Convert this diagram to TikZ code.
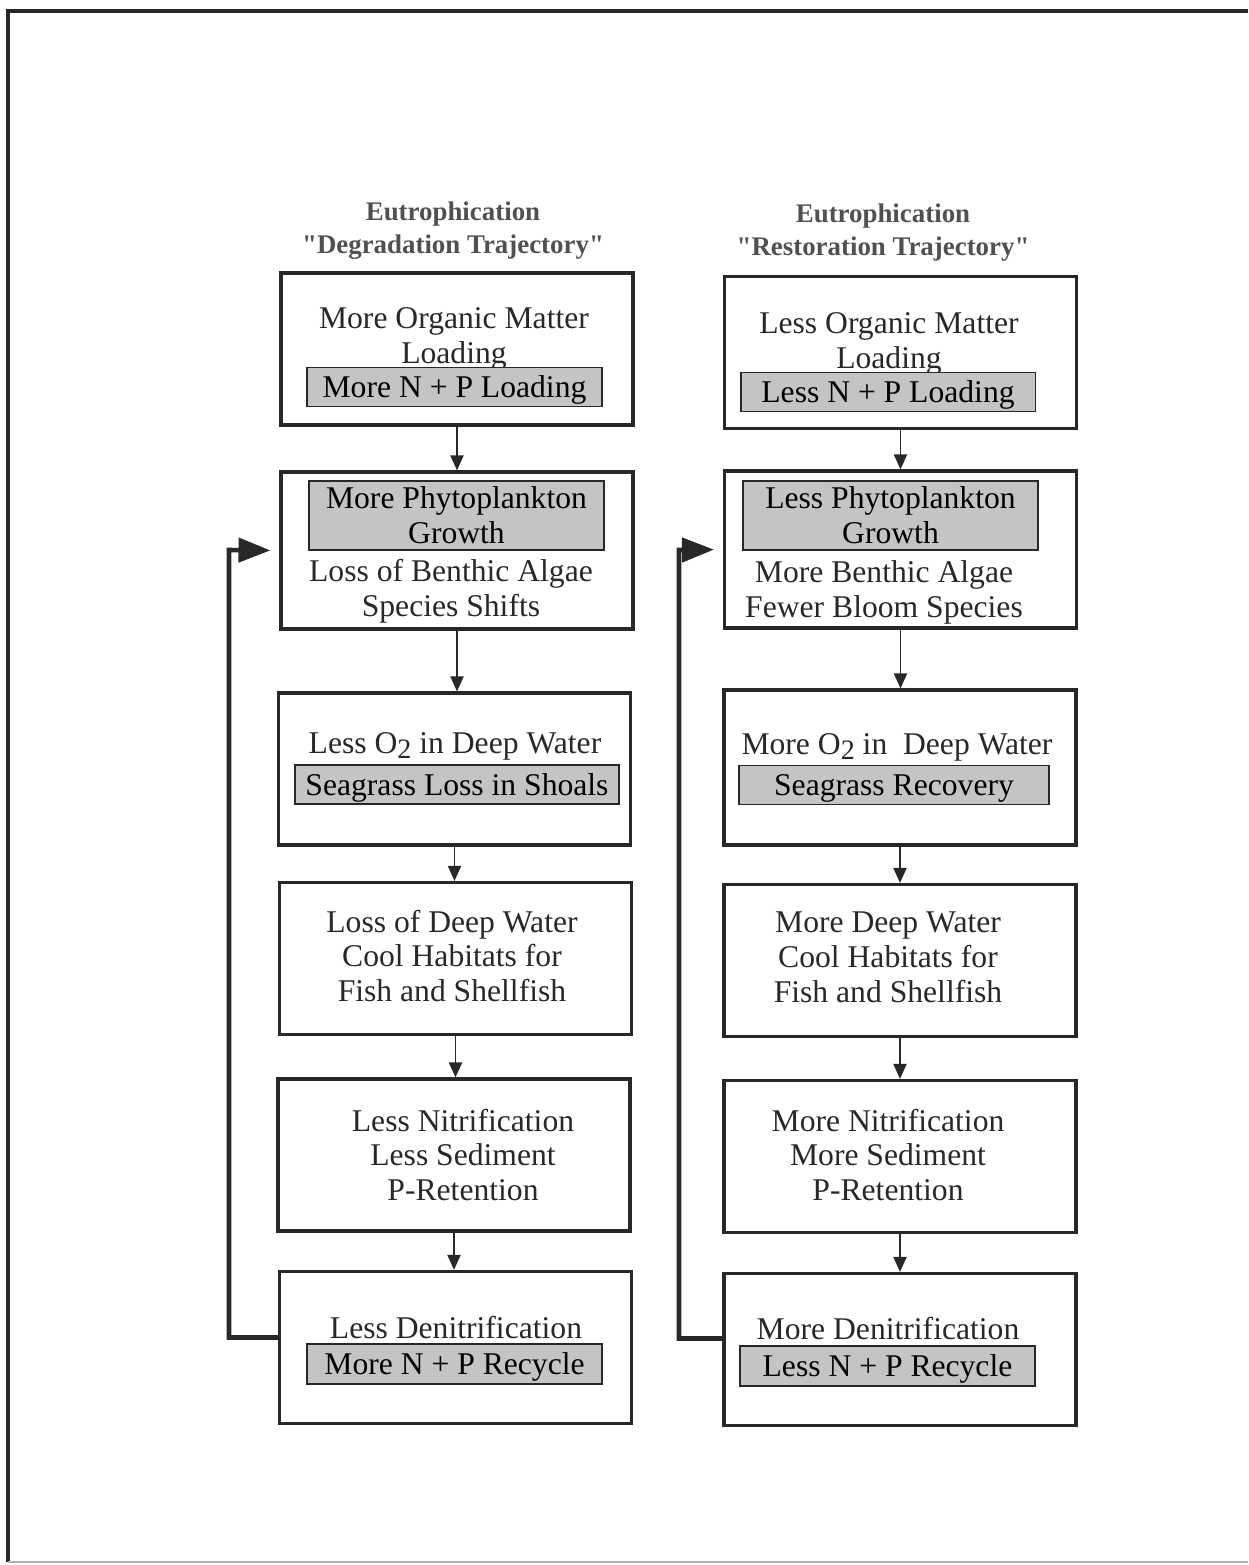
\documentclass[tikz,border=0pt]{standalone}
\usepackage{fontspec}
\setmainfont{Liberation Serif}
\usetikzlibrary{arrows.meta,positioning}

\definecolor{shade}{RGB}{196,196,196}
\definecolor{ink}{RGB}{40,40,40}
\definecolor{headink}{RGB}{80,80,80}
\newcommand{\lowtwo}{\raisebox{-0.4ex}{\fontsize{16}{16}\selectfont 2}}

\tikzset{
  stage/.style={draw=ink,line width=1.8pt,minimum width=7.04cm,minimum height=3.04cm,inner sep=0pt},
  tag/.style={draw=ink,line width=1.1pt,fill=shade,minimum width=5.9cm,minimum height=0.78cm,inner sep=0pt,text depth=0.05em,align=center,font=\fontsize{18}{19.9}\selectfont},
  words/.style={align=center,inner sep=0pt,text=ink,yshift=-0.08cm,font=\fontsize{18}{19.9}\selectfont},
  heading/.style={align=center,inner sep=0pt,text=headink,yshift=-0.06cm,font=\fontsize{15.3}{18.7}\selectfont\bfseries},
  flow/.style={->,draw=ink,line width=1.1pt},
  feedback/.style={-{Triangle[length=0.64cm,width=0.48cm]},draw=ink,line width=2.6pt,shorten >=0.18cm},
  >={Triangle[length=0.3cm,width=0.26cm]}
}

\begin{document}
\begin{tikzpicture}[x=0.02cm,y=-0.02cm]
    \useasboundingbox (0,0) rectangle (1248,1565);
    % outer frame, open on the right
    \draw[ink,line width=1.8pt] (1248,11) -- (8,11) -- (8,1562);
    \draw[gray!60,line width=0.8pt] (8,1562) -- (1248,1562);

    % headings
    \node[heading] (degr) at (453,228) {Eutrophication\\\textquotedbl Degradation Trajectory\textquotedbl};
    \node[heading] (rest) at (883,230) {Eutrophication\\\textquotedbl Restoration Trajectory\textquotedbl};

    % degradation column
    \node[stage] (L1) at (457,349) {};
    \node[words] (L1a) at (454,335) {More Organic Matter\\Loading};
    \node[tag] (L1b) at (454.5,387) {More N + P Loading};

    \node[stage,minimum height=3.14cm] (L2) at (457,550.5) {};
    \node[tag,minimum height=1.38cm] (L2a) at (456.5,515.5) {More Phytoplankton\\Growth};
    \node[words] (L2b) at (451,587) {Loss of Benthic Algae\\Species Shifts};

    \node[stage] (L3) at (454.5,769) {};
    \node[words] (L3a) at (455,742) {Less O\lowtwo{} in Deep Water};
    \node[tag,minimum width=6.48cm] (L3b) at (457,784.5) {Seagrass Loss in Shoals};

    \node[stage] (L4) at (455.5,958.5) {};
    \node[words] (L4a) at (452,952) {Loss of Deep Water\\Cool Habitats for\\Fish and Shellfish};

    \node[stage] (L5) at (454,1155) {};
    \node[words] (L5a) at (463,1151) {Less Nitrification\\Less Sediment\\P-Retention};

    \node[stage] (L6) at (455.5,1347.5) {};
    \node[words] (L6a) at (456,1324) {Less Denitrification};
    \node[tag,minimum height=0.8cm] (L6b) at (454.5,1364) {More N + P Recycle};

    % restoration column
    \node[stage] (R1) at (900.5,352.5) {};
    \node[words] (R1a) at (889,339.5) {Less Organic Matter\\Loading};
    \node[tag] (R1b) at (888,392) {Less N + P Loading};

    \node[stage,minimum height=3.14cm] (R2) at (900.5,549.5) {};
    \node[tag,minimum height=1.38cm] (R2a) at (890.5,515.5) {Less Phytoplankton\\Growth};
    \node[words] (R2b) at (884,588) {More Benthic Algae\\Fewer Bloom Species};

    \node[stage,minimum height=3.1cm] (R3) at (900,767.5) {};
    \node[words] (R3a) at (897,743) {More O\lowtwo{} in\ \ Deep Water};
    \node[tag,minimum width=6.2cm] (R3b) at (894,785) {Seagrass Recovery};

    \node[stage] (R4) at (900,960.5) {};
    \node[words] (R4a) at (888,953) {More Deep Water\\Cool Habitats for\\Fish and Shellfish};

    \node[stage] (R5) at (900,1156.5) {};
    \node[words] (R5a) at (888,1151) {More Nitrification\\More Sediment\\P-Retention};

    \node[stage] (R6) at (900,1349.5) {};
    \node[words] (R6a) at (888,1325) {More Denitrification};
    \node[tag,minimum height=0.8cm] (R6b) at (887.5,1366) {Less N + P Recycle};

    % downward steps, kept upright
    \foreach \a/\b in {L1/L2,L2/L3,L3/L4,L4/L5,L5/L6,R1/R2,R2/R3,R3/R4,R4/R5,R5/R6}
        \draw[flow] (\a.south) -- (\a.south |- \b.north);

    % feedback loops back to the algae boxes
    \coordinate (lturn) at (229,550);
    \coordinate (rturn) at (679,550);
    \draw[feedback] ([yshift=0.2cm]L6.west) -| (lturn) -- (L2.west);
    \draw[feedback] ([yshift=0.22cm]R6.west) -| (rturn) -- (R2.west);
\end{tikzpicture}
\end{document}
